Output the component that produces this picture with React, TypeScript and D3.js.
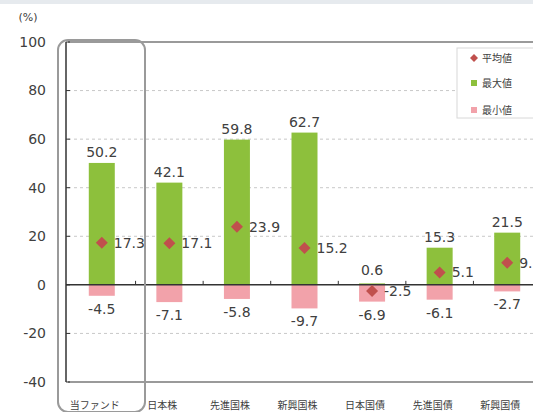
import React from "react";
import * as d3 from "d3";

const categories = ["当ファンド", "日本株", "先進国株", "新興国株", "日本国債", "先進国債", "新興国債"];
const maxValues = [50.2, 42.1, 59.8, 62.7, 0.6, 15.3, 21.5];
const minValues = [-4.5, -7.1, -5.8, -9.7, -6.9, -6.1, -2.7];
const avgValues = [17.3, 17.1, 23.9, 15.2, -2.5, 5.1, 9.1];
const yTicks = [100, 80, 60, 40, 20, 0, -20, -40];

const W = 533;
const H = 412;
const plotLeft = 68;
const plotRight = 541;
const plotTop = 42;
const plotBottom = 382;

const GREEN = "#8dc03c";
const PINK = "#f2a2aa";
const RED = "#c0504d";
const TEXT = "#404040";
const numFont = "'DejaVu Sans', Verdana, sans-serif";
const jpFont = "'Noto Sans CJK JP', sans-serif";

export default function App() {
  const band = d3.scaleBand<string>().domain(categories).range([plotLeft, plotRight]).padding(0);
  const y = d3.scaleLinear().domain([-40, 100]).range([plotBottom, plotTop]);
  const y0 = y(0);
  const bw = 26;
  const cxOf = (c: string) => (band(c) as number) + band.bandwidth() / 2;

  return (
    <svg width={W} height={H} style={{ position: "absolute", left: 0, top: 0, background: "#fff" }}>
      <rect x={0} y={0} width={W} height={H} fill="#fff" />
      <rect x={0} y={0} width={W} height={4} fill="#e6eaee" />
      {/* gridlines */}
      {yTicks.filter((t) => t !== 0 && t !== 100 && t !== -40).map((t) => (
        <line key={t} x1={plotLeft} x2={plotRight} y1={y(t)} y2={y(t)} stroke="#c8c8c8" strokeDasharray="3,3" strokeWidth={1} />
      ))}
      {/* plot border */}
      <line x1={plotLeft} x2={W} y1={plotTop} y2={plotTop} stroke="#9a9a9a" strokeWidth={2} />
      <line x1={plotLeft} x2={W} y1={plotBottom} y2={plotBottom} stroke="#9a9a9a" strokeWidth={2} />
      {/* bars */}
      {categories.map((c, i) => (
        <g key={c}>
          <rect x={cxOf(c) - bw / 2} y={y(maxValues[i])} width={bw} height={y0 - y(maxValues[i])} fill={GREEN} />
          <rect x={cxOf(c) - bw / 2} y={y0} width={bw} height={y(minValues[i]) - y0} fill={PINK} />
        </g>
      ))}
      {/* zero line */}
      <line x1={plotLeft - 2} x2={W} y1={y0} y2={y0} stroke="#333" strokeWidth={1.5} />
      {categories.slice(1).map((c) => (
        <line key={c} x1={band(c)} x2={band(c)} y1={y0} y2={y0 - 4} stroke="#333" strokeWidth={1} />
      ))}
      {/* y axis */}
      <line x1={plotLeft - 2} x2={plotLeft - 2} y1={plotTop} y2={plotBottom} stroke="#333" strokeWidth={1.5} />
      {yTicks.map((t) => (
        <g key={t}>
          <line x1={plotLeft - 2} x2={plotLeft + 2} y1={y(t)} y2={y(t)} stroke="#333" strokeWidth={1} />
          <text x={46} y={y(t)} dy="0.35em" textAnchor="end" fontFamily={numFont} fontSize={14} fill={TEXT}>
            {t}
          </text>
        </g>
      ))}
      <text x={28} y={21} textAnchor="middle" fontFamily={numFont} fontSize={11} fill={TEXT}>(%)</text>
      {/* diamonds and labels */}
      {categories.map((c, i) => {
        const cx = cxOf(c);
        const cy = y(avgValues[i]);
        const s = 6;
        return (
          <g key={c}>
            <path d={`M${cx},${cy - s}L${cx + s},${cy}L${cx},${cy + s}L${cx - s},${cy}Z`} fill={RED} />
            <text x={cx + 12} y={cy} dy="0.35em" fontFamily={numFont} fontSize={14} fill={TEXT}>
              {avgValues[i].toFixed(1)}
            </text>
            <text x={cx} y={Math.min(y(maxValues[i]), y0 - 4) - 6} textAnchor="middle" fontFamily={numFont} fontSize={14} fill={TEXT}>
              {maxValues[i].toFixed(1)}
            </text>
            <text x={cx} y={y(minValues[i]) + 18} textAnchor="middle" fontFamily={numFont} fontSize={14} fill={TEXT}>
              {minValues[i].toFixed(1)}
            </text>
            <text x={cx - 7} y={409} textAnchor="middle" fontFamily={jpFont} fontSize={10} fill={TEXT}>
              {c}
            </text>
          </g>
        );
      })}
      {/* highlight rounded rect */}
      <rect x={58} y={40} width={87} height={372} rx={10} ry={10} fill="none" stroke="#9a9a9a" strokeWidth={2} />
      {/* legend */}
      <rect x={457} y={48} width={90} height={70} fill="#fff" stroke="#d8d8d8" strokeWidth={1} />
      <path d="M474,54L478,58L474,62L470,58Z" fill={RED} />
      <text x={482} y={58} dy="0.35em" fontFamily={jpFont} fontSize={10} fill={TEXT}>平均値</text>
      <rect x={471} y={80} width={6} height={6} fill={GREEN} />
      <text x={482} y={83} dy="0.35em" fontFamily={jpFont} fontSize={10} fill={TEXT}>最大値</text>
      <rect x={471} y={107} width={6} height={6} fill={PINK} />
      <text x={482} y={110} dy="0.35em" fontFamily={jpFont} fontSize={10} fill={TEXT}>最小値</text>
    </svg>
  );
}
